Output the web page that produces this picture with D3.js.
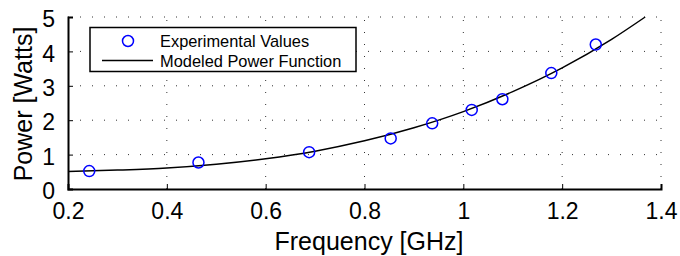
<!DOCTYPE html>
<html>
<head>
<meta charset="utf-8">
<script src="https://cdn.jsdelivr.net/npm/d3@7"></script>
<style>
  html, body { margin: 0; padding: 0; background: #fff; }
  text { font-family: "Liberation Sans", Arial, Helvetica, sans-serif; fill: #000; }
</style>
</head>
<body>
<div class="chart"></div>
<script>
// Data.
let freqs = [0.243, 0.464, 0.688, 0.853, 0.937, 1.017, 1.079, 1.178, 1.268];
let powers = [0.52, 0.77, 1.07, 1.47, 1.91, 2.30, 2.61, 3.37, 4.20];

let curveFreqs = [0.2, 0.3, 0.4, 0.5, 0.6, 0.7, 0.8, 0.9, 1.0, 1.1, 1.2, 1.3, 1.368];
let curvePowers = [0.51, 0.55, 0.61, 0.72, 0.88, 1.10, 1.40, 1.78, 2.25, 2.83, 3.52, 4.35, 5.0];

let xTicks = [0.2, 0.4, 0.6, 0.8, 1.0, 1.2, 1.4];
let yTicks = [0, 1, 2, 3, 4, 5];
let legendLabels = ['Experimental Values', 'Modeled Power Function'];

// Build constants.
let width = 680,
    height = 256,
    plot = {left: 68, right: 661, top: 17, bottom: 189};

let svg = d3.select('.chart')
    .append('svg')
        .attr('width', width)
        .attr('height', height);

let x = d3.scaleLinear().domain([0.2, 1.4]).range([plot.left, plot.right]);
let y = d3.scaleLinear().domain([0, 5]).range([plot.bottom, plot.top]);

// Grid (dotted).
svg.append('g')
    .selectAll('line')
    .data(xTicks.slice(1))
    .join('line')
        .attr('x1', d => x(d)).attr('x2', d => x(d))
        .attr('y1', plot.bottom).attr('y2', plot.top)
        .attr('stroke', '#333')
        .attr('stroke-width', 1)
        .attr('stroke-dasharray', '1,11');

svg.append('g')
    .selectAll('line')
    .data(yTicks.slice(1))
    .join('line')
        .attr('x1', plot.left).attr('x2', plot.right)
        .attr('y1', d => y(d)).attr('y2', d => y(d))
        .attr('stroke', '#333')
        .attr('stroke-width', 1)
        .attr('stroke-dasharray', '1,11');

// Axes.
let xAxis = svg.append('g')
    .attr('transform', `translate(0, ${plot.bottom})`)
    .call(d3.axisBottom(x).tickValues(xTicks).tickSize(-5).tickPadding(10).tickFormat(d3.format('~g')));

let yAxis = svg.append('g')
    .attr('transform', `translate(${plot.left}, 0)`)
    .call(d3.axisLeft(y).tickValues(yTicks).tickSize(-5).tickPadding(13).tickFormat(d3.format('d')));

[xAxis, yAxis].forEach(a => {
    a.select('.domain').attr('stroke', '#000').attr('stroke-width', 2);
    a.selectAll('.tick line').attr('stroke', '#000').attr('stroke-width', 1);
    a.selectAll('.tick text')
        .style('font-size', '23px')
        .style('font-family', '"Liberation Sans", Arial, sans-serif');
});
xAxis.selectAll('.tick text').attr('dy', '0.85em');
yAxis.selectAll('.tick text').attr('dy', '0.42em');

// Modeled curve.
let line = d3.line()
    .x((d, i) => x(curveFreqs[i]))
    .y(d => y(d))
    .curve(d3.curveMonotoneX);

svg.append('path')
    .datum(curvePowers)
    .attr('d', line)
    .attr('fill', 'none')
    .attr('stroke', '#000')
    .attr('stroke-width', 1.5);

// Experimental points.
svg.append('g')
    .selectAll('circle')
    .data(powers)
    .join('circle')
        .attr('cx', (d, i) => x(freqs[i]))
        .attr('cy', d => y(d))
        .attr('r', 5.5)
        .attr('fill', 'none')
        .attr('stroke', '#0000ff')
        .attr('stroke-width', 1.5);

// Axis labels.
svg.append('text')
    .attr('x', 369)
    .attr('y', 250)
    .attr('text-anchor', 'middle')
    .style('font-size', '25px')
    .text('Frequency [GHz]');

svg.append('text')
    .attr('transform', 'translate(32, 104) rotate(-90)')
    .attr('text-anchor', 'middle')
    .style('font-size', '25px')
    .text('Power [Watts]');

// Legend.
let legend = svg.append('g');
legend.append('rect')
    .attr('x', 90).attr('y', 27.5)
    .attr('width', 266).attr('height', 44)
    .attr('fill', '#fff')
    .attr('stroke', '#000')
    .attr('stroke-width', 1.5);

legend.append('circle')
    .attr('cx', 128).attr('cy', 41)
    .attr('r', 5.5)
    .attr('fill', 'none')
    .attr('stroke', '#0000ff')
    .attr('stroke-width', 1.5);

legend.append('line')
    .attr('x1', 102).attr('x2', 153)
    .attr('y1', 60.5).attr('y2', 60.5)
    .attr('stroke', '#000')
    .attr('stroke-width', 1.5);

legend.selectAll('.legend-label')
    .data(legendLabels)
    .join('text')
        .attr('class', 'legend-label')
        .attr('x', 160)
        .attr('y', (d, i) => 46.5 + i * 20)
        .style('font-size', '16.4px')
        .text(d => d);
</script>
</body>
</html>
